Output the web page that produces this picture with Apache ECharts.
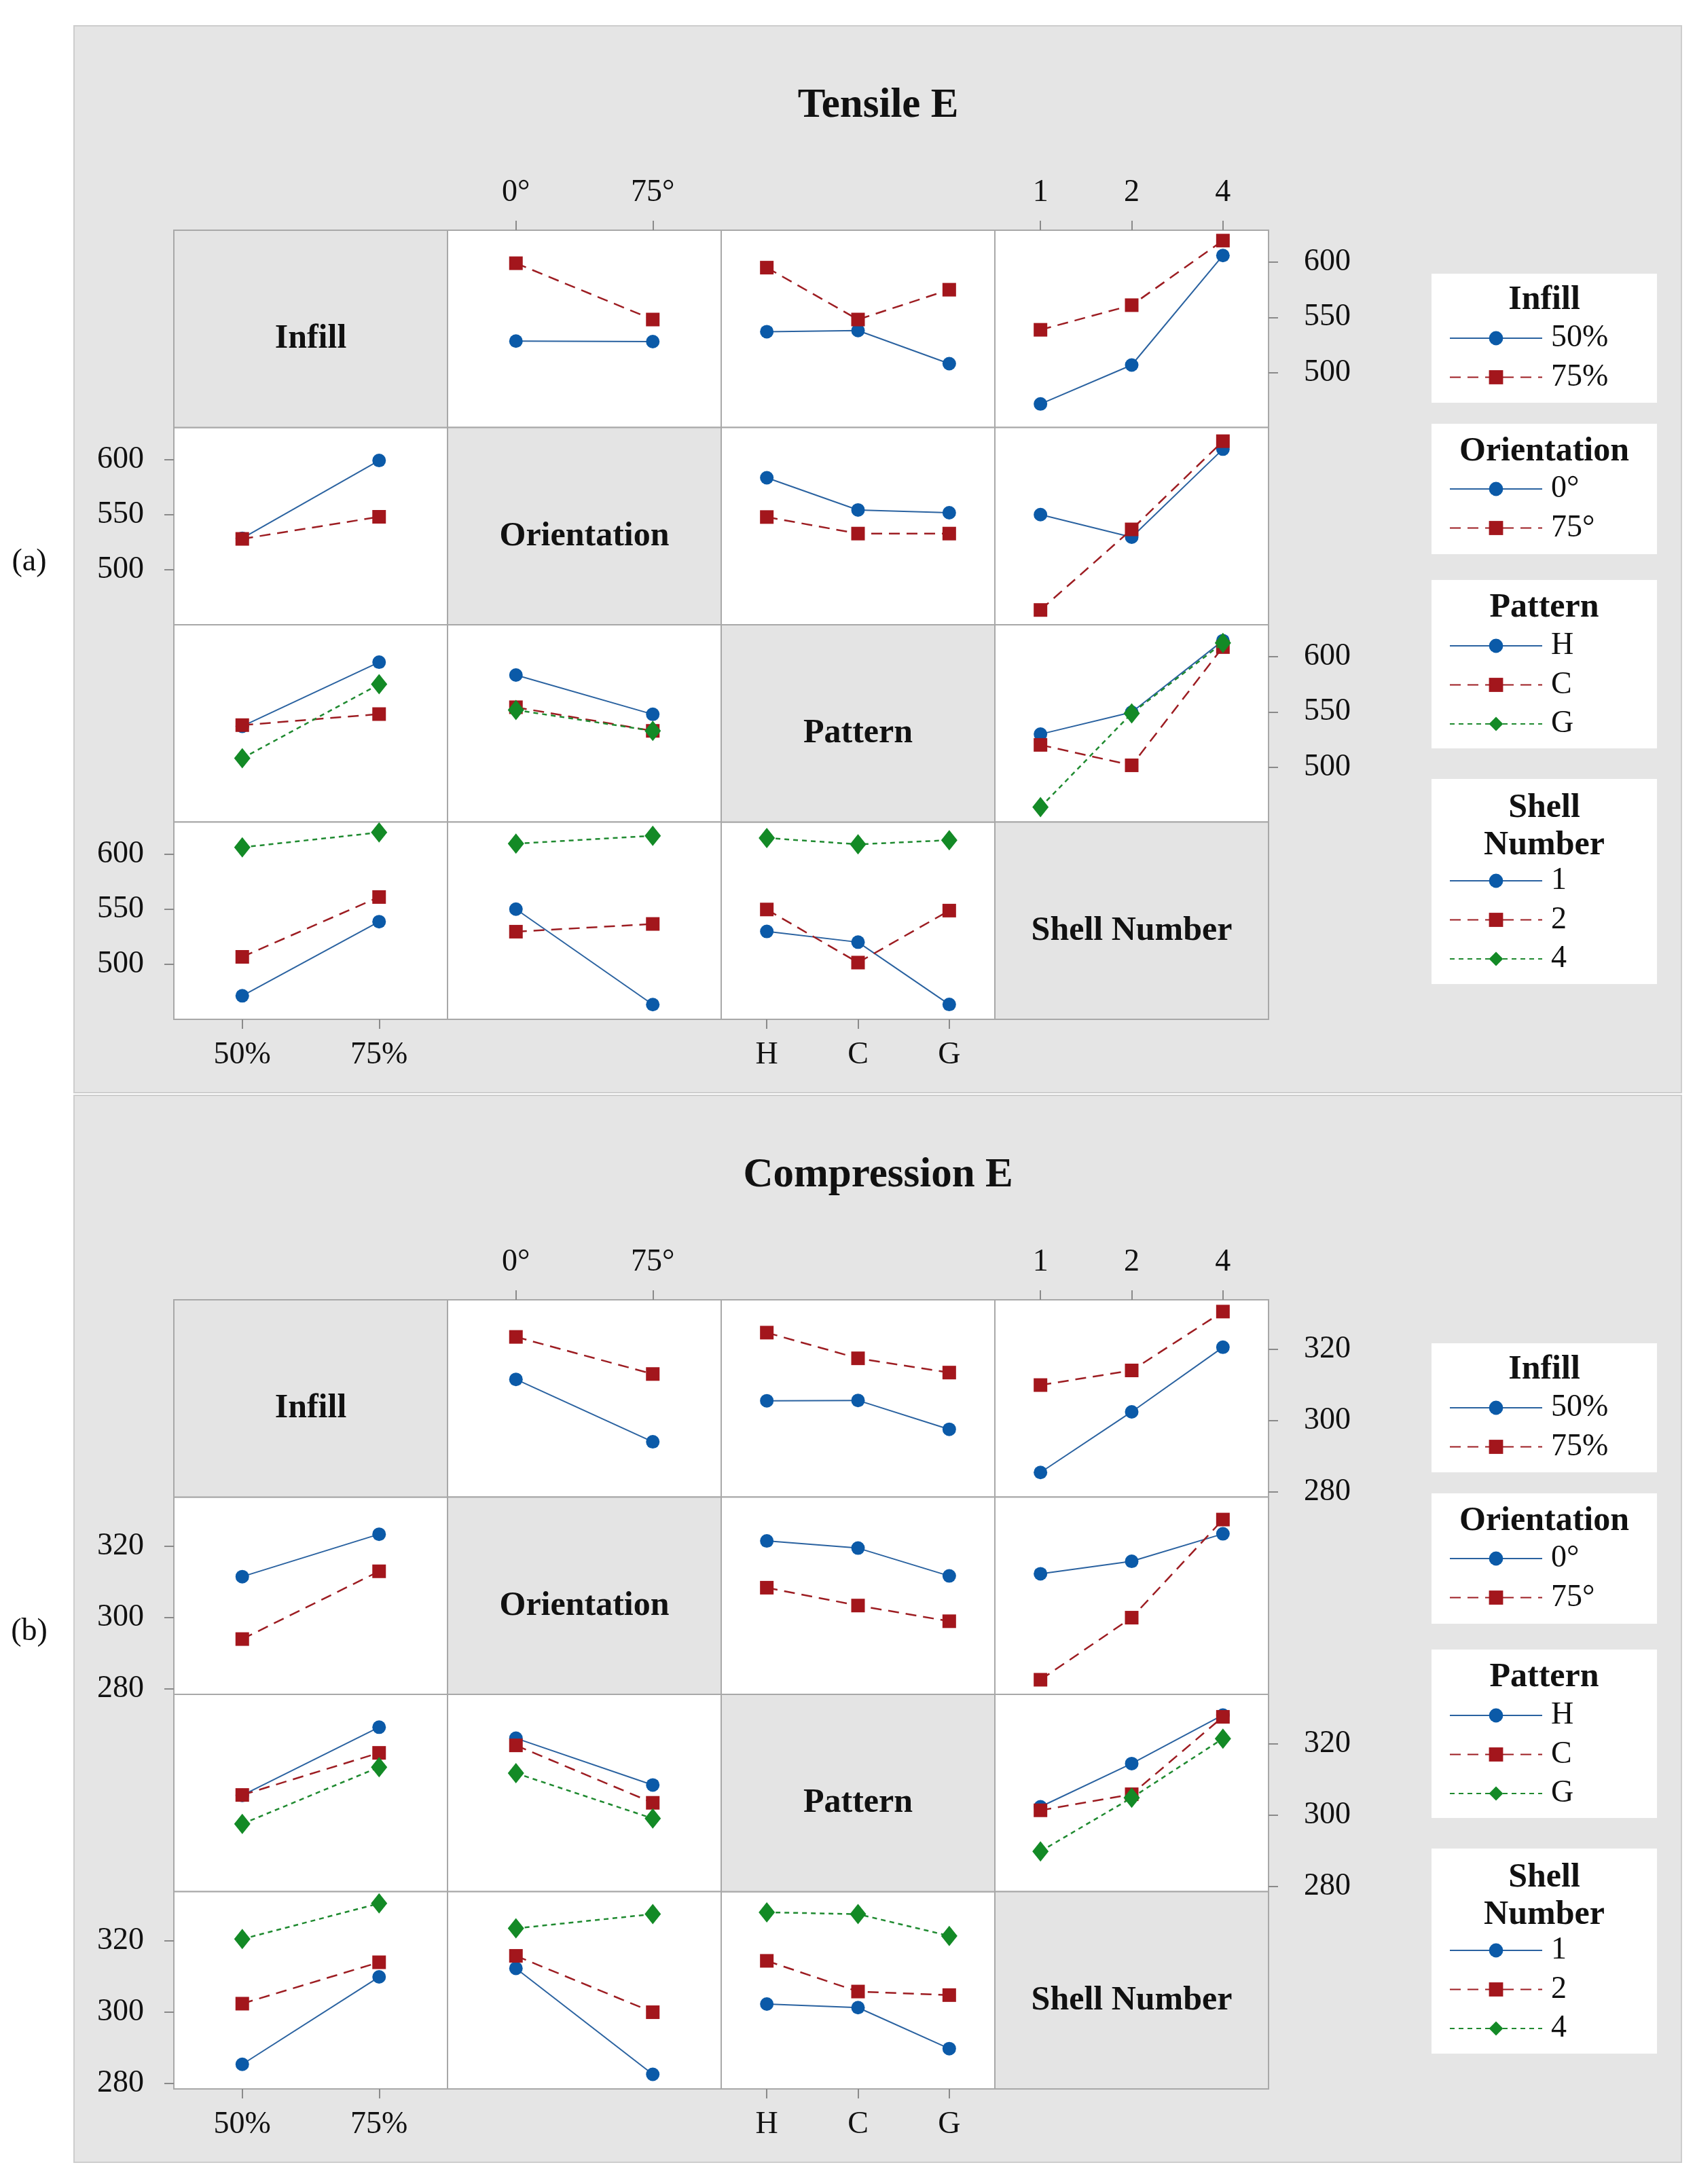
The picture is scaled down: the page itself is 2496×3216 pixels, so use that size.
<!DOCTYPE html>
<html>
<head>
<meta charset="utf-8">
<script src="https://cdn.jsdelivr.net/npm/echarts@6/dist/echarts.min.js"></script>
<style>
html,body{margin:0;padding:0;background:#fff;}
#c{width:2496px;height:3216px;}
</style>
</head>
<body>
<div id="c"></div>
<script>
// ---------- categories ----------
const factorNames = ['Infill', 'Orientation', 'Pattern', 'Shell Number'];
const infillLevels = ['50%', '75%'];
const orientationLevels = ['0°', '75°'];
const patternLevels = ['H', 'C', 'G'];
const shellLevels = ['1', '2', '4'];

// ---------- Tensile E : two-way means [firstFactorLevel][secondFactorLevel] ----------
const tensileInfillOrientation = [[528.5, 528.0], [599.0, 548.0]];
const tensileInfillPattern = [[537.0, 538.0, 508.0], [595.0, 548.0, 575.0]];
const tensileInfillShell = [[471.5, 506.8, 606.0], [538.7, 561.0, 619.5]];
const tensileOrientationPattern = [[583.4, 554.2, 551.7], [547.8, 532.8, 532.8]];
const tensileOrientationShell = [[550.0, 529.6, 609.3], [463.6, 536.6, 616.5]];
const tensilePatternShell = [[529.8, 549.7, 614.5], [520.1, 501.6, 608.7], [463.7, 548.7, 612.5]];
const tensileTicks = [500, 550, 600];

// ---------- Compression E ----------
const compressionInfillOrientation = [[311.5, 294.0], [323.4, 313.0]];
const compressionInfillPattern = [[305.5, 305.6, 297.5], [324.6, 317.4, 313.4]];
const compressionInfillShell = [[285.4, 302.4, 320.5], [309.9, 314.0, 330.5]];
const compressionOrientationPattern = [[321.5, 319.5, 311.7], [308.4, 303.4, 299.0]];
const compressionOrientationShell = [[312.3, 315.8, 323.5], [282.6, 300.0, 327.5]];
const compressionPatternShell = [[302.3, 314.4, 328.0], [301.3, 305.8, 327.5], [289.8, 304.8, 321.4]];
const compressionTicks = [280, 300, 320];

const levels = [infillLevels, orientationLevels, patternLevels, shellLevels];

const charts = [
  {
    title: 'Tensile E', tag: '(a)', gridTop: 339, min: 450.2, max: 628.9, ticks: tensileTicks,
    pairs: {
      '0_1': tensileInfillOrientation, '0_2': tensileInfillPattern, '0_3': tensileInfillShell,
      '1_2': tensileOrientationPattern, '1_3': tensileOrientationShell, '2_3': tensilePatternShell
    }
  },
  {
    title: 'Compression E', tag: '(b)', gridTop: 1914, min: 278.5, max: 333.8, ticks: compressionTicks,
    pairs: {
      '0_1': compressionInfillOrientation, '0_2': compressionInfillPattern, '0_3': compressionInfillShell,
      '1_2': compressionOrientationPattern, '1_3': compressionOrientationShell, '2_3': compressionPatternShell
    }
  }
];

// ---------- layout / styles ----------
const FONT = 'Liberation Serif';
const L = 256, W = 403, H = 290.5;
const styles = [
  { color: '#0b5aa8', line: '#2a62a0', symbol: 'circle', size: 20, type: 'solid', width: 2 },
  { color: '#a3161c', line: '#9d1d22', symbol: 'rect', size: 20, type: [16, 10], width: 2.5 },
  { color: '#138a26', line: '#1f8a30', symbol: 'diamond', size: [24, 30], type: [7, 6], width: 2.5 }
];
const legendBoxes = [[64, 254], [285, 477], [515, 763], [808, 1110]];
const legendTitles = [[['Infill', 103]], [['Orientation', 326]], [['Pattern', 556]], [['Shell', 851], ['Number', 906]]];
const legendFirstItem = [159, 381, 612, 958];

const grid = [], xAxis = [], yAxis = [], series = [], graphic = [], legend = [];

charts.forEach((ch) => {
  const gt = ch.gridTop;
  graphic.push({
    type: 'rect', z: -10, silent: true,
    shape: { x: 109, y: gt - 301, width: 2367, height: 1571 },
    style: { fill: '#e5e5e5', stroke: '#cdcdcd', lineWidth: 2 }
  });
  graphic.push({
    type: 'text', silent: true,
    style: { text: ch.title, x: 1293, y: gt - 183, align: 'center', verticalAlign: 'middle',
      font: 'bold 61px ' + FONT, fill: '#111' }
  });
  graphic.push({
    type: 'text', silent: true,
    style: { text: ch.tag, x: 43, y: gt + 489, align: 'center', verticalAlign: 'middle',
      font: '46px ' + FONT, fill: '#111' }
  });

  for (let i = 0; i < 4; i++) {
    for (let j = 0; j < 4; j++) {
      const x = L + j * W, y = gt + i * H;
      if (i === j) {
        graphic.push({
          type: 'rect', silent: true,
          shape: { x: x, y: y, width: W, height: H },
          style: { fill: '#e4e4e4', stroke: '#a8a8a8', lineWidth: 2 }
        });
        graphic.push({
          type: 'text', silent: true,
          style: { text: factorNames[i], x: x + W / 2, y: y + H / 2 + 15, align: 'center', verticalAlign: 'middle',
            font: 'bold 50px ' + FONT, fill: '#111' }
        });
        continue;
      }
      const gi = grid.length;
      grid.push({
        left: x, top: y, width: W, height: H, show: true, backgroundColor: '#ffffff',
        borderColor: '#a8a8a8', borderWidth: 2, containLabel: false, outerBoundsMode: 'none'
      });
      const showX = (i === 0 && (j === 1 || j === 3)) || (i === 3 && (j === 0 || j === 2));
      xAxis.push({
        type: 'category', gridIndex: gi, data: levels[j], boundaryGap: true,
        position: i === 0 ? 'top' : 'bottom',
        axisLine: { show: false },
        axisTick: { show: showX, alignWithLabel: true, length: 14, lineStyle: { color: '#8a8a8a', width: 2 } },
        axisLabel: { show: showX, margin: i === 0 ? 32 : 30, fontSize: 46, fontFamily: FONT, color: '#111' },
        splitLine: { show: false }
      });
      const showY = (j === 3 && (i === 0 || i === 2)) || (j === 0 && (i === 1 || i === 3));
      const rightSide = (i === 0 || i === 2);
      yAxis.push({
        type: 'value', gridIndex: gi, min: ch.min, max: ch.max,
        position: rightSide ? 'right' : 'left',
        axisLine: { show: false },
        splitLine: { show: false },
        axisTick: { show: showY, length: 14, customValues: ch.ticks, lineStyle: { color: '#8a8a8a', width: 2 } },
        axisLabel: { show: showY, customValues: ch.ticks, margin: rightSide ? 52 : 44,
          fontSize: 46, fontFamily: FONT, color: '#111' }
      });
      levels[i].forEach((name, k) => {
        const data = levels[j].map((_, m) =>
          i < j ? ch.pairs[i + '_' + j][k][m] : ch.pairs[j + '_' + i][m][k]);
        const s = styles[k];
        series.push({
          type: 'line', name: name, xAxisIndex: gi, yAxisIndex: gi, data: data,
          symbol: s.symbol, symbolSize: s.size, showSymbol: true,
          itemStyle: { color: s.color },
          lineStyle: { color: s.line, width: s.width, type: s.type },
          z: 3 + k, silent: true
        });
      });
    }
  }

  // legends
  for (let f = 0; f < 4; f++) {
    const b = legendBoxes[f];
    graphic.push({
      type: 'rect', silent: true,
      shape: { x: 2108, y: gt + b[0], width: 332, height: b[1] - b[0] },
      style: { fill: '#ffffff' }
    });
    legendTitles[f].forEach((t) => {
      graphic.push({
        type: 'text', silent: true,
        style: { text: t[0], x: 2274, y: gt + t[1], align: 'center', verticalAlign: 'middle',
          font: 'bold 50px ' + FONT, fill: '#111' }
      });
    });
    legend.push({
      orient: 'vertical', left: 2134, top: gt + legendFirstItem[f] - 23,
      itemWidth: 136, itemHeight: 26, itemGap: 11.5, padding: 0,
      selectedMode: false,
      data: levels[f],
      textStyle: { fontSize: 46, lineHeight: 46, fontFamily: FONT, color: '#111', padding: [0, 0, 0, 8] }
    });
  }
});

const chart = echarts.init(document.getElementById('c'), null, { renderer: 'canvas' });
chart.setOption({
  backgroundColor: '#ffffff',
  animation: false,
  grid: grid,
  xAxis: xAxis,
  yAxis: yAxis,
  legend: legend,
  series: series,
  graphic: { elements: graphic }
});
</script>
</body>
</html>
